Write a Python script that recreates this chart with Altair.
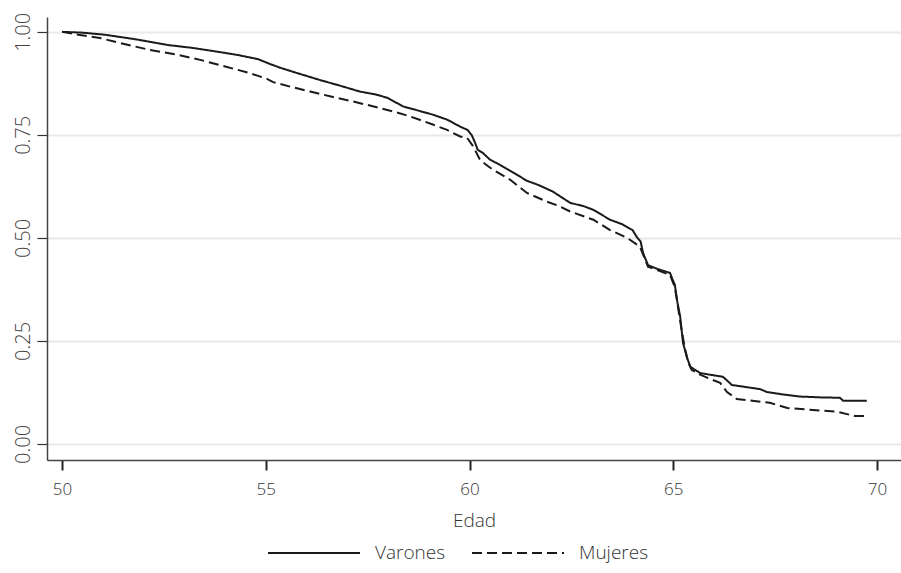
import altair as alt
import pandas as pd

# Varones (solid)
ages_v = [50.0, 50.5, 51.05, 51.8, 52.6, 53.2, 53.8, 54.3, 54.8, 55.1, 55.35, 55.8, 56.33, 56.8,
          57.31, 57.7, 57.98, 58.37, 58.7, 59.1, 59.45, 59.77, 59.95, 60.05, 60.12, 60.2, 60.33,
          60.5, 60.75, 61.1, 61.4, 61.7, 62.05, 62.47, 62.8, 63.04, 63.45, 63.75, 64.0, 64.1,
          64.2, 64.26, 64.38, 64.6, 64.92, 64.98, 65.04, 65.1, 65.17, 65.24, 65.34, 65.42,
          65.66, 65.9, 66.22, 66.44, 67.13, 67.3, 67.7, 68.1, 68.6, 69.09, 69.17, 69.75]
surv_v = [1.0, 0.998, 0.993, 0.982, 0.968, 0.961, 0.952, 0.944, 0.934, 0.922, 0.913, 0.899,
          0.883, 0.87, 0.855, 0.848, 0.840, 0.819, 0.81, 0.799, 0.787, 0.770, 0.762, 0.750,
          0.735, 0.714, 0.706, 0.69, 0.677, 0.657, 0.639, 0.628, 0.612, 0.585, 0.577, 0.568,
          0.544, 0.533, 0.519, 0.503, 0.491, 0.463, 0.434, 0.425, 0.415, 0.40, 0.386, 0.345,
          0.309, 0.245, 0.209, 0.187, 0.172, 0.168, 0.163, 0.143, 0.133, 0.126, 0.12, 0.115,
          0.113, 0.112, 0.105, 0.105]

# Mujeres (dashed)
ages_m = [50.0, 50.4, 50.93, 51.5, 52.16, 52.8, 53.39, 54.0, 54.6, 55.03, 55.18, 55.6, 56.09,
          56.6, 57.14, 57.6, 58.12, 58.5, 58.79, 59.1, 59.45, 59.77, 59.94, 60.09, 60.26, 60.4,
          60.58, 61.0, 61.41, 61.9, 62.2, 62.47, 63.04, 63.45, 63.87, 64.18, 64.26, 64.38, 64.6,
          64.92, 65.04, 65.12, 65.2, 65.28, 65.36, 65.45, 65.66, 65.9, 66.15, 66.32, 66.56,
          67.37, 67.8, 69.02, 69.45, 69.7]
surv_m = [1.0, 0.993, 0.985, 0.971, 0.956, 0.945, 0.932, 0.916, 0.900, 0.886, 0.878, 0.867,
          0.855, 0.843, 0.831, 0.82, 0.807, 0.796, 0.786, 0.775, 0.762, 0.746, 0.743, 0.722,
          0.689, 0.678, 0.665, 0.641, 0.609, 0.588, 0.577, 0.564, 0.544, 0.519, 0.50, 0.479,
          0.46, 0.43, 0.422, 0.41, 0.38, 0.33, 0.28, 0.235, 0.20, 0.18, 0.168, 0.158, 0.148,
          0.126, 0.109, 0.10, 0.087, 0.078, 0.068, 0.068]

series = ["Varones", "Mujeres"]
x_ticks = [50, 55, 60, 65, 70]
y_ticks = [0.0, 0.25, 0.5, 0.75, 1.0]

df = pd.concat([
    pd.DataFrame({"Edad": ages_v, "S": surv_v, "Sexo": series[0]}),
    pd.DataFrame({"Edad": ages_m, "S": surv_m, "Sexo": series[1]}),
])

FONT = "Open Sans"

chart = alt.Chart(df).mark_line(
    interpolate="linear", strokeWidth=2, color="#1a1a1a"
).encode(
    x=alt.X("Edad:Q", title="Edad",
            scale=alt.Scale(domain=[49.63, 70.59], nice=False, zero=False),
            axis=alt.Axis(values=x_ticks, grid=False, tickSize=10, tickWidth=2,
                          tickColor="#222", domainColor="#444", domainWidth=1.5,
                          labelFontSize=17, labelFontWeight=300, labelPadding=11,
                          labelColor="#333",
                          titleFontSize=19, titleFontWeight=300, titleColor="#333",
                          titlePadding=14, labelFont=FONT, titleFont=FONT)),
    y=alt.Y("S:Q", title=None,
            scale=alt.Scale(domain=[-0.039, 1.036], nice=False, zero=False),
            axis=alt.Axis(values=y_ticks, format=".2f", grid=True, gridColor="#e9e9e9",
                          gridWidth=2, tickSize=10, tickWidth=1.2, tickColor="#333",
                          domainColor="#444", domainWidth=1.5, labelAngle=-90,
                          labelAlign="center", labelBaseline="bottom", labelPadding=4,
                          labelFontSize=20, labelFontWeight=300, labelColor="#444",
                          labelFont=FONT)),
    strokeDash=alt.StrokeDash("Sexo:N", sort=series,
                              scale=alt.Scale(domain=series, range=[[1, 0], [10, 5]]),
                              legend=alt.Legend(title=None, orient="none", direction="horizontal",
                                                legendX=220, legendY=489,
                                                symbolType="stroke", symbolSize=8464,
                                                symbolStrokeWidth=2, symbolStrokeColor="#1a1a1a",
                                                labelFontSize=19, labelFontWeight=300,
                                                labelColor="#333",
                                                labelFont=FONT, labelOffset=14,
                                                columnPadding=22)),
).properties(
    width=854, height=443,
    padding={"left": 47, "top": 17, "right": 0, "bottom": 113},
    autosize=alt.AutoSizeParams(type="none"),
).configure_view(stroke=None)

chart.save("out.html", embed_options={"renderer": "svg", "actions": False})
